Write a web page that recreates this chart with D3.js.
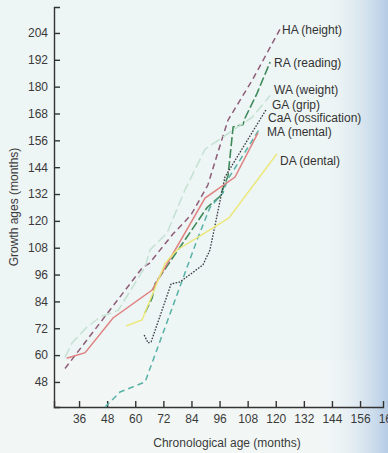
<!DOCTYPE html>
<html>
<head>
<meta charset="utf-8">
<script src="https://cdn.jsdelivr.net/npm/d3@7"></script>
<style>
  body { margin: 0; background: #eef5f5; }
  svg { display: block; font-family: "Liberation Sans", Arial, sans-serif; }
  .axis path, .axis line { stroke: #333; stroke-width: 1.4; }
  .axis text { fill: #3a3a3a; font-size: 12px; }
</style>
</head>
<body>
<div id="chart"></div>
<script>
// Chart area size
var svgWidth = 388;
var svgHeight = 453;

// Tick values on both axes (months)
var xTicks = [36, 48, 60, 72, 84, 96, 108, 120, 132, 144, 156, 168];
var yTicks = [48, 60, 72, 84, 96, 108, 120, 132, 144, 156, 168, 180, 192, 204];

// Series: [chronological age, growth age]
var heightAge = [[30, 54], [63, 99], [66, 101], [76, 114], [81, 119.5], [84, 123], [91, 136], [95.4, 151], [99.6, 165], [110, 183], [122, 206]];
var readingAge = [[64.2, 79], [67.2, 85.5], [68.5, 92], [90.7, 126], [96.2, 131], [99.6, 140], [101.8, 162], [106, 163], [106.9, 166], [112, 177], [117.6, 191]];
var weightAge = [[30, 59], [33, 65.4], [39.4, 72.6], [45, 77], [52.7, 80], [64.2, 99.4], [66.3, 107], [73.6, 114.6], [81.3, 134], [89.8, 152], [95.4, 156], [99.6, 159], [110, 166.4], [117.6, 176]];
var gripAge = [[47.1, 36.8], [53.5, 43.5], [64.2, 48], [77, 84.6], [86.4, 111.5], [91.9, 126], [97.5, 132.5], [99.2, 138], [113.3, 161.5]];
var ossificationAge = [[63.8, 69], [65.5, 65.4], [66.8, 66], [75.3, 91.8], [79.1, 92.7], [88.9, 100.3], [91.9, 107], [98.3, 139.6], [115.8, 169.6]];
var mentalAge = [[30.7, 58.6], [38.6, 61.1], [50.5, 76.6], [67.2, 89.1], [89.8, 130.2], [102.6, 139.6], [112.4, 159.3]];
var dentalAge = [[56.1, 73], [62.9, 75.7], [72.7, 101], [77.8, 107], [87.7, 113.3], [100, 121.3], [120.5, 150]];

// Label text for each series
var seriesNames = ["HA (height)", "RA (reading)", "WA (weight)", "GA (grip)", "CaA (ossification)", "MA (mental)", "DA (dental)"];

// Line styles and label placement (pixels)
var series = [
  { data: heightAge, color: "#8e5d78", dash: "6,4", width: 1.5, lx: 282, ly: 34 },
  { data: readingAge, color: "#3f8a5a", dash: "9,3", width: 1.6, lx: 274, ly: 67 },
  { data: weightAge, color: "#c4e2d2", dash: "10,4", width: 1.5, lx: 274, ly: 94 },
  { data: gripAge, color: "#58b2a6", dash: "6,4", width: 1.5, lx: 272, ly: 109 },
  { data: ossificationAge, color: "#3a3a40", dash: "1.6,1.4", width: 1.3, lx: 268, ly: 122 },
  { data: mentalAge, color: "#e08282", dash: null, width: 1.5, lx: 267, ly: 136 },
  { data: dentalAge, color: "#ece878", dash: null, width: 1.4, lx: 280, ly: 165 }
];

var svg = d3.select("#chart")
  .append("svg")
  .attr("width", svgWidth)
  .attr("height", svgHeight);

// Paper background with bluish shading on the right
var defs = svg.append("defs");
var grad = defs.append("linearGradient").attr("id", "edge");
grad.append("stop").attr("offset", "0%").attr("stop-color", "#eef5f5").attr("stop-opacity", 0);
grad.append("stop").attr("offset", "100%").attr("stop-color", "#aac4e2").attr("stop-opacity", 0.85);

svg.append("rect").attr("width", svgWidth).attr("height", svgHeight).attr("fill", "#eef5f5");
svg.append("rect").attr("y", 360).attr("width", svgWidth).attr("height", 93).attr("fill", "#f2f7f6");
svg.append("rect").attr("x", 320).attr("width", 68).attr("height", svgHeight).attr("fill", "url(#edge)");

// Scales
var xScale = d3.scaleLinear().domain([25.3, 165.8]).range([54, 383]);
var yScale = d3.scaleLinear().domain([36.8, 215.6]).range([407, 7]);

// Axes, ticks pointing inward
svg.append("g")
  .attr("class", "axis")
  .attr("transform", "translate(54,0)")
  .call(d3.axisLeft(yScale).tickValues(yTicks).tickSize(-6).tickPadding(6));

svg.append("g")
  .attr("class", "axis")
  .attr("transform", "translate(0,407)")
  .call(d3.axisBottom(xScale).tickValues(xTicks).tickSize(-6).tickPadding(7));

svg.selectAll(".axis .domain").attr("fill", "none");

// Axis titles
svg.append("text")
  .attr("x", 227)
  .attr("y", 447)
  .attr("text-anchor", "middle")
  .attr("fill", "#3a3a3a")
  .style("font-size", "12px")
  .text("Chronological age (months)");

svg.append("text")
  .attr("transform", "translate(18,207) rotate(-90)")
  .attr("text-anchor", "middle")
  .attr("fill", "#3a3a3a")
  .style("font-size", "12px")
  .text("Growth ages (months)");

// Lines
var line = d3.line()
  .x(d => xScale(d[0]))
  .y(d => yScale(d[1]));

series.forEach(function(s, i) {
  svg.append("path")
    .datum(s.data)
    .attr("fill", "none")
    .attr("stroke", s.color)
    .attr("stroke-width", s.width)
    .attr("stroke-dasharray", s.dash)
    .attr("d", line);

  svg.append("text")
    .attr("x", s.lx)
    .attr("y", s.ly)
    .attr("fill", "#333")
    .style("font-size", "12px")
    .text(seriesNames[i]);
});
</script>
</body>
</html>
